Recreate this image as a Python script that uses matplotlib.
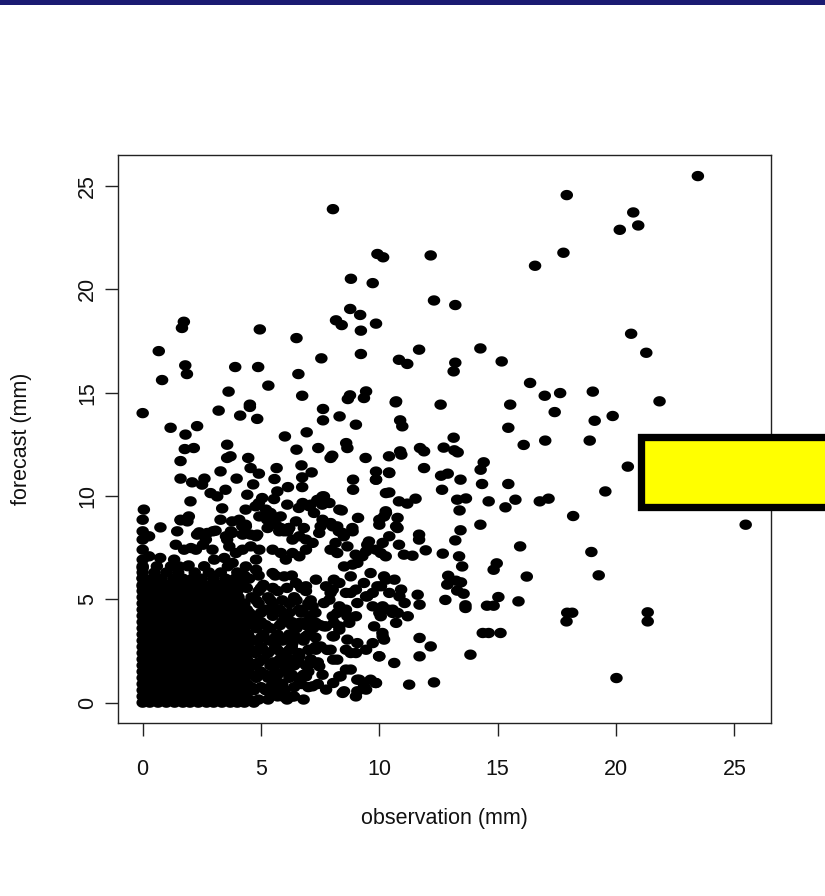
import numpy as np
import matplotlib
matplotlib.use("Agg")
import matplotlib.pyplot as plt
from matplotlib.path import Path
from matplotlib.patches import Rectangle

plt.rcParams['font.family'] = ['Liberation Sans', 'DejaVu Sans']

# ---------------- data (observation, forecast) in mm ----------------
obs_upper = [8.04, 9.92, 10.16, 12.17, 8.80, 9.72, 12.31, 8.77, 9.19, 8.17, 8.41, 9.22, 9.86,
             1.74, 1.66, 4.95, 6.50, 0.68, 7.55, 9.22, 10.83, 11.18, 11.68, 1.80, 1.87, 3.91,
             4.88, 0.82, 6.58, 5.31, 3.63, 6.74, 8.76, 8.67, 9.44, 9.35, 10.71, 12.59, 4.53]
fcst_upper = [23.88, 21.71, 21.55, 21.64, 20.51, 20.30, 19.46, 19.05, 18.76, 18.50, 18.27, 18.00, 18.34,
              18.43, 18.13, 18.06, 17.64, 17.01, 16.66, 16.87, 16.59, 16.39, 17.08, 16.32, 15.90, 16.24,
              16.24, 15.61, 15.90, 15.34, 15.05, 14.85, 14.87, 14.69, 15.06, 14.74, 14.58, 14.42, 14.42]

obs_topright = [23.46, 17.92, 20.73, 20.94, 20.16, 17.78, 16.58, 13.21, 20.64, 21.28, 14.27, 15.17,
                13.21, 13.14, 16.37, 16.99, 17.64, 19.02, 21.84, 15.53]
fcst_topright = [25.48, 24.56, 23.72, 23.09, 22.88, 21.77, 21.14, 19.24, 17.85, 16.93, 17.14, 16.51,
                 16.45, 16.03, 15.47, 14.85, 14.98, 15.05, 14.58, 14.42]

obs_right = [17.41, 19.10, 19.86, 15.45, 17.01, 18.89, 16.10, 20.50, 19.55, 25.48, 18.19, 13.14,
             12.72, 13.17, 13.31, 14.41, 14.28, 12.89, 12.61, 13.43, 14.34, 15.45, 12.65, 13.29,
             13.66, 13.39, 14.62, 15.75, 15.33, 16.78, 17.15, 14.27, 13.43, 13.21, 12.68, 13.37,
             13.50, 15.95, 18.96, 14.96, 14.83, 16.23, 19.27, 12.91, 12.87, 13.24, 13.45, 13.29,
             13.56, 12.79, 13.64, 13.64, 15.03, 14.55, 14.83, 15.88, 17.94, 18.15, 17.91, 21.34,
             21.34, 14.37, 14.62, 15.12, 13.85, 20.02]
fcst_right = [14.06, 13.64, 13.87, 13.30, 12.68, 12.68, 12.47, 11.42, 10.22, 8.61, 9.03, 12.82,
              12.34, 12.21, 12.11, 11.63, 11.27, 11.08, 10.98, 10.79, 10.58, 10.58, 10.30, 9.82,
              9.88, 9.30, 9.74, 9.82, 9.45, 9.74, 9.87, 8.61, 8.34, 7.85, 7.21, 7.08,
              6.59, 7.56, 7.29, 6.74, 6.43, 6.10, 6.16, 6.14, 5.71, 5.90, 5.82, 5.42,
              5.27, 4.97, 4.71, 4.58, 5.11, 4.69, 4.69, 4.90, 4.35, 4.35, 3.93, 4.37,
              3.93, 3.37, 3.37, 3.37, 2.32, 1.19]

obs_mid = [0.00, 3.21, 4.12, 4.53, 4.84, 1.18, 2.30, 1.81, 1.78, 2.16, 1.60, 3.57, 3.71, 3.57,
           4.46, 4.56, 4.91, 5.66, 5.57, 6.01, 6.93, 6.50, 6.71, 7.14, 6.74, 7.62, 7.62, 8.32,
           9.01, 8.60, 8.65, 7.42, 7.94, 8.01, 9.42, 10.41, 10.88, 10.93, 10.88, 10.97, 10.69,
           11.72, 11.89, 11.89, 9.86, 9.86, 10.41, 8.89, 8.89, 10.42, 10.83, 11.18, 11.53, 1.60,
           2.09, 2.61, 2.51, 2.87, 3.15, 3.50, 3.29, 3.97, 4.67, 4.42, 5.05, 4.91, 5.69, 5.55,
           6.14, 6.74, 2.02, 3.36, 4.35, 4.77, 6.11, 6.60, 7.10, 7.38, 7.66, 7.59, 7.24, 5.40,
           5.83, 5.26, 8.41, 0.05, 0.00, 0.75, 1.60, 1.95, 2.30, 2.73, 3.08, 1.46, 3.29, 3.78,
           4.21, 4.35, 3.78, 3.57, 4.56, 4.84, 5.97, 6.18, 6.81, 7.52, 7.94, 8.22, 8.86, 9.10,
           10.27, 10.20, 10.77, 10.00, 10.77, 9.56, 9.49, 11.68, 11.68, 10.83, 11.04, 11.96,
           10.06, 10.27, 11.40, 8.29, 8.50, 8.15, 7.94, 8.22, 8.65, 9.00, 9.28]
fcst_mid = [14.01, 14.13, 13.89, 14.31, 13.73, 13.30, 13.38, 12.97, 12.27, 12.32, 11.69, 12.48, 11.92, 11.84,
            11.84, 11.35, 11.08, 11.35, 10.82, 12.88, 13.08, 12.24, 11.48, 11.14, 10.90, 14.21, 13.66, 13.85,
            13.45, 12.56, 12.32, 12.32, 11.84, 11.95, 11.84, 11.92, 12.16, 12.00, 13.66, 13.37, 14.53,
            12.32, 12.16, 11.35, 11.18, 10.79, 11.14, 10.79, 10.30, 10.17, 9.74, 9.63, 9.87, 10.84,
            10.66, 10.84, 10.55, 10.14, 9.98, 10.30, 11.19, 10.84, 10.56, 10.06, 9.90, 9.66, 10.22, 9.85,
            10.43, 10.43, 9.74, 9.40, 9.34, 9.50, 9.58, 9.42, 9.58, 9.81, 9.98, 9.58, 9.18, 9.18,
            9.01, 8.85, 9.30, 9.34, 8.85, 8.48, 8.85, 9.01, 8.13, 8.21, 8.32, 8.29, 8.85, 8.77,
            8.53, 8.61, 8.21, 7.89, 8.13, 8.13, 8.29, 8.45, 8.45, 8.53, 8.69, 8.53, 8.45, 8.94,
            9.26, 9.01, 8.94, 8.61, 8.45, 7.80, 7.64, 8.13, 7.89, 7.64, 7.16, 7.37,
            7.24, 7.08, 7.11, 8.29, 8.05, 7.73, 7.40, 7.24, 7.56, 7.16, 7.08]

obs_low = [0.00, 0.00, 0.00, 0.00, 0.00, 0.00, 0.00, 0.27, 0.27, 0.74, 1.61, 1.89, 1.40, 1.75,
           2.04, 2.25, 2.55, 2.67, 2.39, 1.94, 1.33, 1.54, 2.95, 3.02, 3.45, 3.80, 3.66, 3.94,
           4.08, 4.36, 4.79, 4.22, 3.52, 3.73, 2.97, 4.22, 4.57, 4.93, 4.79, 4.36, 4.08, 4.93,
           5.21, 5.49, 5.28, 5.63, 5.84, 6.19, 6.48, 5.77, 6.12, 6.33, 6.62, 6.90, 7.18, 7.46,
           6.76, 7.04, 7.46, 7.60, 7.89, 8.31, 7.60, 8.03, 8.45, 8.87, 5.49, 5.84, 6.05, 6.33,
           6.62, 6.90, 4.79, 5.49, 5.98, 6.48, 6.90, 7.32, 7.75, 8.03, 8.31, 8.59, 9.01, 9.44,
           9.72, 10.07, 10.28, 10.56, 10.85, 8.87, 9.15, 9.44, 9.86, 10.14, 10.42, 10.71, 10.28,
           10.00, 10.28, 10.42, 9.86, 10.00, 10.63, 8.05, 8.31, 8.59, 8.05, 9.15, 9.44, 9.86,
           9.01, 8.45, 7.32, 7.18, 7.46, 6.90, 6.62, 7.18, 7.75, 6.33, 5.91, 5.49, 5.77, 5.21,
           8.03, 8.31, 8.73, 9.01, 8.59, 9.01, 9.44, 9.72, 10.14, 10.71, 10.56, 7.89, 8.31, 8.59,
           8.03, 8.31, 7.75, 7.32, 9.72, 10.00, 10.14, 10.42, 6.76, 7.18, 6.62, 6.90, 6.33, 7.04,
           6.62, 6.33, 6.05, 5.77, 5.49, 11.70, 12.17, 11.70, 11.26, 12.31, 11.62, 11.70, 11.07,
           10.92, 10.64, 11.20, 10.78, 10.36, 10.13, 10.20, 9.78, 10.06, 9.99, 9.63, 9.84, 9.35,
           9.07, 8.51, 9.07, 8.79, 8.36, 8.22, 8.79, 9.07, 8.65, 8.08, 7.94, 7.52, 9.07, 9.49,
           8.79, 9.35, 9.92, 10.20, 9.63, 9.07, 8.79, 8.51, 8.08, 7.94, 7.66, 8.22, 8.65, 7.66, 8.08]
fcst_low = [8.29, 7.89, 7.40, 6.92, 6.52, 6.03, 5.63, 8.05, 7.08, 7.00, 8.82, 8.77, 7.64, 7.40,
            7.48, 7.40, 7.64, 7.89, 8.24, 6.64, 6.92, 6.59, 7.40, 6.92, 7.00, 6.76, 7.56, 7.24,
            8.85, 8.53, 8.05, 8.13, 8.05, 8.29, 8.29, 7.40, 7.56, 7.40, 6.92, 6.59, 6.11, 9.01,
            9.34, 9.01, 8.45, 8.61, 8.45, 8.45, 8.77, 8.29, 8.29, 7.89, 8.05, 7.89, 7.73, 8.21,
            9.66, 9.50, 9.82, 9.98, 9.66, 9.34, 8.85, 8.53, 8.21, 8.29, 7.40, 7.24, 6.92, 7.24,
            7.08, 7.40, 6.43, 6.27, 6.11, 5.79, 5.63, 5.95, 5.63, 5.47, 5.79, 5.31, 5.47, 5.14,
            5.31, 5.63, 5.95, 4.50, 5.14, 6.68, 7.08, 7.32, 7.40, 7.73, 8.05, 8.53, 9.18,
            8.85, 10.14, 11.11, 10.79, 2.24, 1.92, 2.08, 1.27, 1.60, 0.95, 1.11, 0.63, 0.95,
            0.30, 0.47, 2.56, 1.92, 1.76, 1.27, 0.95, 0.79, 0.63, 0.30, 0.30, 0.47, 0.95, 0.63,
            3.21, 3.53, 3.86, 4.18, 2.56, 2.40, 2.56, 2.88, 3.21, 3.86, 4.34, 4.98, 4.66, 4.50,
            4.18, 3.69, 3.69, 3.86, 4.66, 4.34, 4.66, 5.31, 4.50, 4.66, 3.86, 3.21, 2.88, 2.56,
            2.24, 1.92, 1.60, 1.92, 1.27, 3.13, 2.72, 2.24, 0.87, 0.98, 5.22, 4.74, 4.82,
            5.47, 5.95, 4.18, 4.34, 4.50, 3.37, 3.05, 3.69, 4.18, 2.24, 1.11, 0.95, 0.79,
            0.55, 0.55, 1.11, 1.60, 1.27, 2.08, 2.40, 2.88, 3.05, 3.21, 2.56, 2.72, 4.82, 5.14,
            5.31, 5.79, 5.63, 6.11, 6.27, 6.76, 6.11, 6.59, 5.95, 5.31, 4.82, 4.34, 4.18, 3.69, 3.86]

# dense core: forecast level of each row and the observations read along it
dense_fcst = [0.0, 0.3, 0.6, 0.9, 1.2, 1.5, 1.8, 2.1, 2.4, 2.7, 3.0, 3.3,
              3.6, 3.9, 4.2, 4.5, 4.8, 5.1, 5.4, 5.7, 6.0, 6.3, 6.6]
dense_obs = [
    [0.0, 0.3, 0.65, 1.0, 1.35, 1.7, 2.0, 2.35, 2.7, 3.0, 3.35, 3.7, 4.0, 4.3, 4.7],
    [0.0, 0.35, 0.7, 1.0, 1.3, 1.7, 2.05, 2.4, 2.7, 3.05, 3.4, 3.7, 4.05, 4.35, 5.7, 6.4],
    [0.0, 0.3, 0.65, 1.0, 1.35, 1.65, 2.0, 2.3, 2.65, 3.0, 3.35, 3.65, 4.0, 4.3, 4.7, 5.2, 6.0],
    [0.0, 0.35, 0.7, 1.05, 1.35, 1.7, 2.05, 2.35, 2.7, 3.05, 3.35, 3.7, 4.05, 4.4, 5.5, 5.9, 6.7, 7.4],
    [0.0, 0.3, 0.65, 1.0, 1.3, 1.65, 2.0, 2.35, 2.65, 3.0, 3.3, 3.65, 4.0, 4.3, 4.8, 5.3, 6.2, 6.6],
    [0.0, 0.35, 0.7, 1.0, 1.35, 1.7, 2.0, 2.4, 2.7, 3.05, 3.4, 3.7, 4.05, 4.4, 5.0, 5.6, 6.0, 7.0],
    [0.0, 0.3, 0.65, 1.05, 1.3, 1.65, 2.05, 2.3, 2.65, 3.0, 3.35, 3.65, 4.0, 4.35, 4.7, 5.4, 6.4, 6.9],
    [0.0, 0.35, 0.7, 1.0, 1.35, 1.7, 2.0, 2.35, 2.7, 3.05, 3.4, 3.7, 4.05, 4.4, 5.1, 5.8, 6.3, 7.1],
    [0.0, 0.3, 0.65, 1.0, 1.3, 1.65, 2.0, 2.35, 2.65, 3.0, 3.35, 3.65, 4.0, 4.3, 4.75, 5.3, 6.0, 6.6],
    [0.0, 0.35, 0.7, 1.05, 1.35, 1.7, 2.05, 2.4, 2.7, 3.05, 3.4, 3.7, 4.05, 4.4, 5.0, 5.6, 6.3, 7.3],
    [0.0, 0.3, 0.65, 1.0, 1.3, 1.65, 2.0, 2.3, 2.65, 3.0, 3.35, 3.65, 4.0, 4.3, 4.7, 5.35, 5.9, 6.8],
    [0.0, 0.35, 0.7, 1.0, 1.35, 1.7, 2.05, 2.4, 2.7, 3.05, 3.4, 3.7, 4.05, 4.45, 5.1, 5.7, 6.2, 7.0],
    [0.0, 0.3, 0.65, 1.05, 1.3, 1.65, 2.0, 2.35, 2.65, 3.0, 3.35, 3.65, 4.0, 4.3, 4.8, 5.4, 6.5, 7.2],
    [0.0, 0.35, 0.7, 1.0, 1.35, 1.7, 2.05, 2.35, 2.7, 3.05, 3.4, 3.7, 4.05, 4.4, 5.0, 5.9, 6.3, 6.9],
    [0.0, 0.3, 0.65, 1.0, 1.3, 1.65, 2.0, 2.3, 2.65, 3.0, 3.35, 3.65, 4.0, 4.35, 4.7, 5.5, 6.0, 7.1],
    [0.0, 0.35, 0.7, 1.05, 1.35, 1.7, 2.05, 2.4, 2.7, 3.05, 3.4, 3.7, 4.05, 4.4, 5.2, 5.8, 6.6],
    [0.0, 0.3, 0.65, 1.0, 1.3, 1.65, 2.0, 2.35, 2.65, 3.0, 3.35, 3.65, 4.0, 4.3, 4.9, 5.5, 6.2, 7.0],
    [0.0, 0.35, 0.7, 1.0, 1.35, 1.7, 2.05, 2.35, 2.7, 3.05, 3.4, 3.7, 4.05, 4.6, 5.3, 6.4],
    [0.0, 0.3, 0.65, 1.05, 1.3, 1.65, 2.0, 2.3, 2.65, 3.0, 3.35, 3.65, 4.0, 4.9, 5.7, 6.9],
    [0.0, 0.35, 0.75, 1.1, 1.5, 1.8, 2.2, 2.6, 2.9, 3.3, 3.7, 4.2, 5.1],
    [0.0, 0.4, 0.8, 1.3, 1.7, 2.1, 2.5, 3.0, 3.5, 3.9, 4.5],
    [0.0, 0.5, 1.0, 1.5, 2.2, 2.8, 3.3, 4.0],
    [0.0, 0.6, 1.2, 1.9, 2.6, 3.6],
]

# interleaved rows inside the solid core (fill the gaps between the rows above)
core_fcst = [0.15, 0.45, 0.75, 1.05, 1.35, 1.65, 1.95, 2.25, 2.55, 2.85, 3.15, 3.45,
             3.75, 4.05, 4.35, 4.65, 4.95, 5.25, 5.55]
core_obs = [
    [0.15, 0.5, 0.85, 1.2, 1.5, 1.85, 2.2, 2.5, 2.85, 3.2, 3.5, 3.85, 4.15],
    [0.15, 0.5, 0.85, 1.15, 1.5, 1.85, 2.2, 2.55, 2.85, 3.2, 3.55, 3.85, 4.2],
    [0.2, 0.5, 0.85, 1.2, 1.5, 1.85, 2.15, 2.5, 2.85, 3.2, 3.5, 3.85, 4.15],
    [0.15, 0.5, 0.85, 1.2, 1.55, 1.85, 2.2, 2.5, 2.85, 3.2, 3.5, 3.85, 4.2],
    [0.15, 0.5, 0.85, 1.2, 1.5, 1.85, 2.2, 2.5, 2.85, 3.15, 3.5, 3.85, 4.15],
    [0.2, 0.5, 0.85, 1.15, 1.5, 1.85, 2.2, 2.55, 2.85, 3.2, 3.5, 3.85, 4.2],
    [0.15, 0.5, 0.85, 1.2, 1.5, 1.85, 2.15, 2.5, 2.85, 3.2, 3.55, 3.85, 4.15],
    [0.15, 0.5, 0.85, 1.2, 1.55, 1.85, 2.2, 2.5, 2.85, 3.2, 3.5, 3.85, 4.2],
    [0.2, 0.5, 0.85, 1.2, 1.5, 1.85, 2.2, 2.5, 2.85, 3.15, 3.5, 3.85, 4.15],
    [0.15, 0.5, 0.85, 1.15, 1.5, 1.85, 2.2, 2.55, 2.85, 3.2, 3.5, 3.85, 4.2],
    [0.15, 0.5, 0.85, 1.2, 1.5, 1.85, 2.15, 2.5, 2.85, 3.2, 3.55, 3.85, 4.15],
    [0.2, 0.5, 0.85, 1.2, 1.55, 1.85, 2.2, 2.5, 2.85, 3.2, 3.5, 3.85, 4.2],
    [0.15, 0.5, 0.85, 1.2, 1.5, 1.85, 2.2, 2.5, 2.85, 3.15, 3.5, 3.85, 4.15],
    [0.15, 0.5, 0.85, 1.15, 1.5, 1.85, 2.2, 2.55, 2.85, 3.2, 3.5, 3.85, 4.2],
    [0.2, 0.5, 0.85, 1.2, 1.5, 1.85, 2.15, 2.5, 2.85, 3.2, 3.55, 3.85, 4.15],
    [0.15, 0.5, 0.85, 1.2, 1.55, 1.85, 2.2, 2.5, 2.85, 3.2, 3.5, 3.85, 4.2],
    [0.15, 0.5, 0.85, 1.2, 1.5, 1.85, 2.2, 2.5, 2.85, 3.15, 3.5, 3.85],
    [0.2, 0.5, 0.85, 1.15, 1.5, 1.85, 2.2, 2.55, 2.85, 3.2, 3.5, 3.9],
    [0.15, 0.55, 0.9, 1.3, 1.6, 2.0, 2.45, 2.8, 3.15, 3.5, 3.9],
]

# second, interleaved set of rows filling the band just right of the core
band_fcst = [0.15, 0.75, 1.35, 1.95, 2.55, 3.15, 3.75, 4.35, 4.95, 5.55, 6.15]
band_obs = [
    [4.5, 4.9, 5.3, 6.1, 6.8],
    [4.6, 5.0, 5.4, 5.8, 6.4, 7.0],
    [4.6, 5.2, 5.7, 6.3, 6.8, 7.6],
    [4.5, 4.9, 5.5, 6.0, 6.6, 7.4],
    [4.6, 5.1, 5.7, 6.2, 7.0, 7.8],
    [4.5, 5.0, 5.6, 6.1, 6.5, 7.3],
    [4.7, 5.2, 5.8, 6.3, 6.9, 7.5],
    [4.5, 5.0, 5.5, 6.2, 6.7, 7.3],
    [4.8, 5.4, 5.9, 6.5, 7.1],
    [4.4, 5.0, 5.5, 6.1, 6.7],
    [4.3, 4.9, 5.6, 6.3],
]

x_ticks = [0, 5, 10, 15, 20, 25]
y_ticks = [0, 5, 10, 15, 20, 25]
x_label = "observation (mm)"
y_label = "forecast (mm)"

# ---------------- assemble ----------------
obs = obs_upper + obs_topright + obs_right + obs_mid + obs_low
fcst = fcst_upper + fcst_topright + fcst_right + fcst_mid + fcst_low
for lvl, row in zip(dense_fcst + core_fcst + band_fcst, dense_obs + core_obs + band_obs):
    obs += row
    fcst += [lvl] * len(row)

W, H = 825, 896
fig = plt.figure(figsize=(W / 100, H / 100), dpi=100)
fig.patch.set_facecolor('white')

ax_l, ax_r, ax_t, ax_b = 118.3, 771.0, 155.0, 723.3
ax = fig.add_axes([ax_l / W, 1 - ax_b / H, (ax_r - ax_l) / W, (ax_b - ax_t) / H])

# slightly wide ellipse marker like the reference
th = np.linspace(0, 2 * np.pi, 60)
ell = Path(np.column_stack([np.cos(th), 0.83 * np.sin(th)]), closed=True)

ax.scatter(obs, fcst, s=9.0 ** 2, marker=ell, c='black', edgecolors='none', zorder=3)

ax.set_xlim(-1.03, 26.55)
ax.set_ylim(-1.0, 26.5)
ax.set_xticks(x_ticks)
ax.set_yticks(y_ticks)
for sp in ax.spines.values():
    sp.set_linewidth(1.0)
    sp.set_color('#222222')
ax.tick_params(axis='both', direction='out', length=9.5, width=1.0, color='#222222',
               labelsize=15.5, labelcolor='#111111')
ax.tick_params(axis='x', pad=16)
ax.tick_params(axis='y', pad=5)
for lab in ax.get_yticklabels():
    lab.set_rotation(90)
    lab.set_va('center')

fig.text((ax_l + ax_r) / 2 / W, 1 - 818 / H, x_label, ha='center', va='center',
         fontsize=15.5, color='#111111')
fig.text(22 / W, 1 - (ax_t + ax_b) / 2 / H, y_label, ha='center', va='center',
         rotation=90, fontsize=15.5, color='#111111')

# navy strip at the top
fig.patches.append(Rectangle((0, 1 - 5 / H), 1, 5 / H, transform=fig.transFigure,
                             facecolor='#1b1b72', edgecolor='none', zorder=20))
# yellow box with thick black frame, running off the right edge
bx0, by0, by1 = 641.0, 437.4, 507.4
fig.patches.append(Rectangle((bx0 / W, 1 - by1 / H), 0.3, (by1 - by0) / H,
                             transform=fig.transFigure, facecolor='#ffff00',
                             edgecolor='black', linewidth=7.3 * 0.72,
                             joinstyle='miter', zorder=20))

fig.savefig('out.png', dpi=100, facecolor='white')
